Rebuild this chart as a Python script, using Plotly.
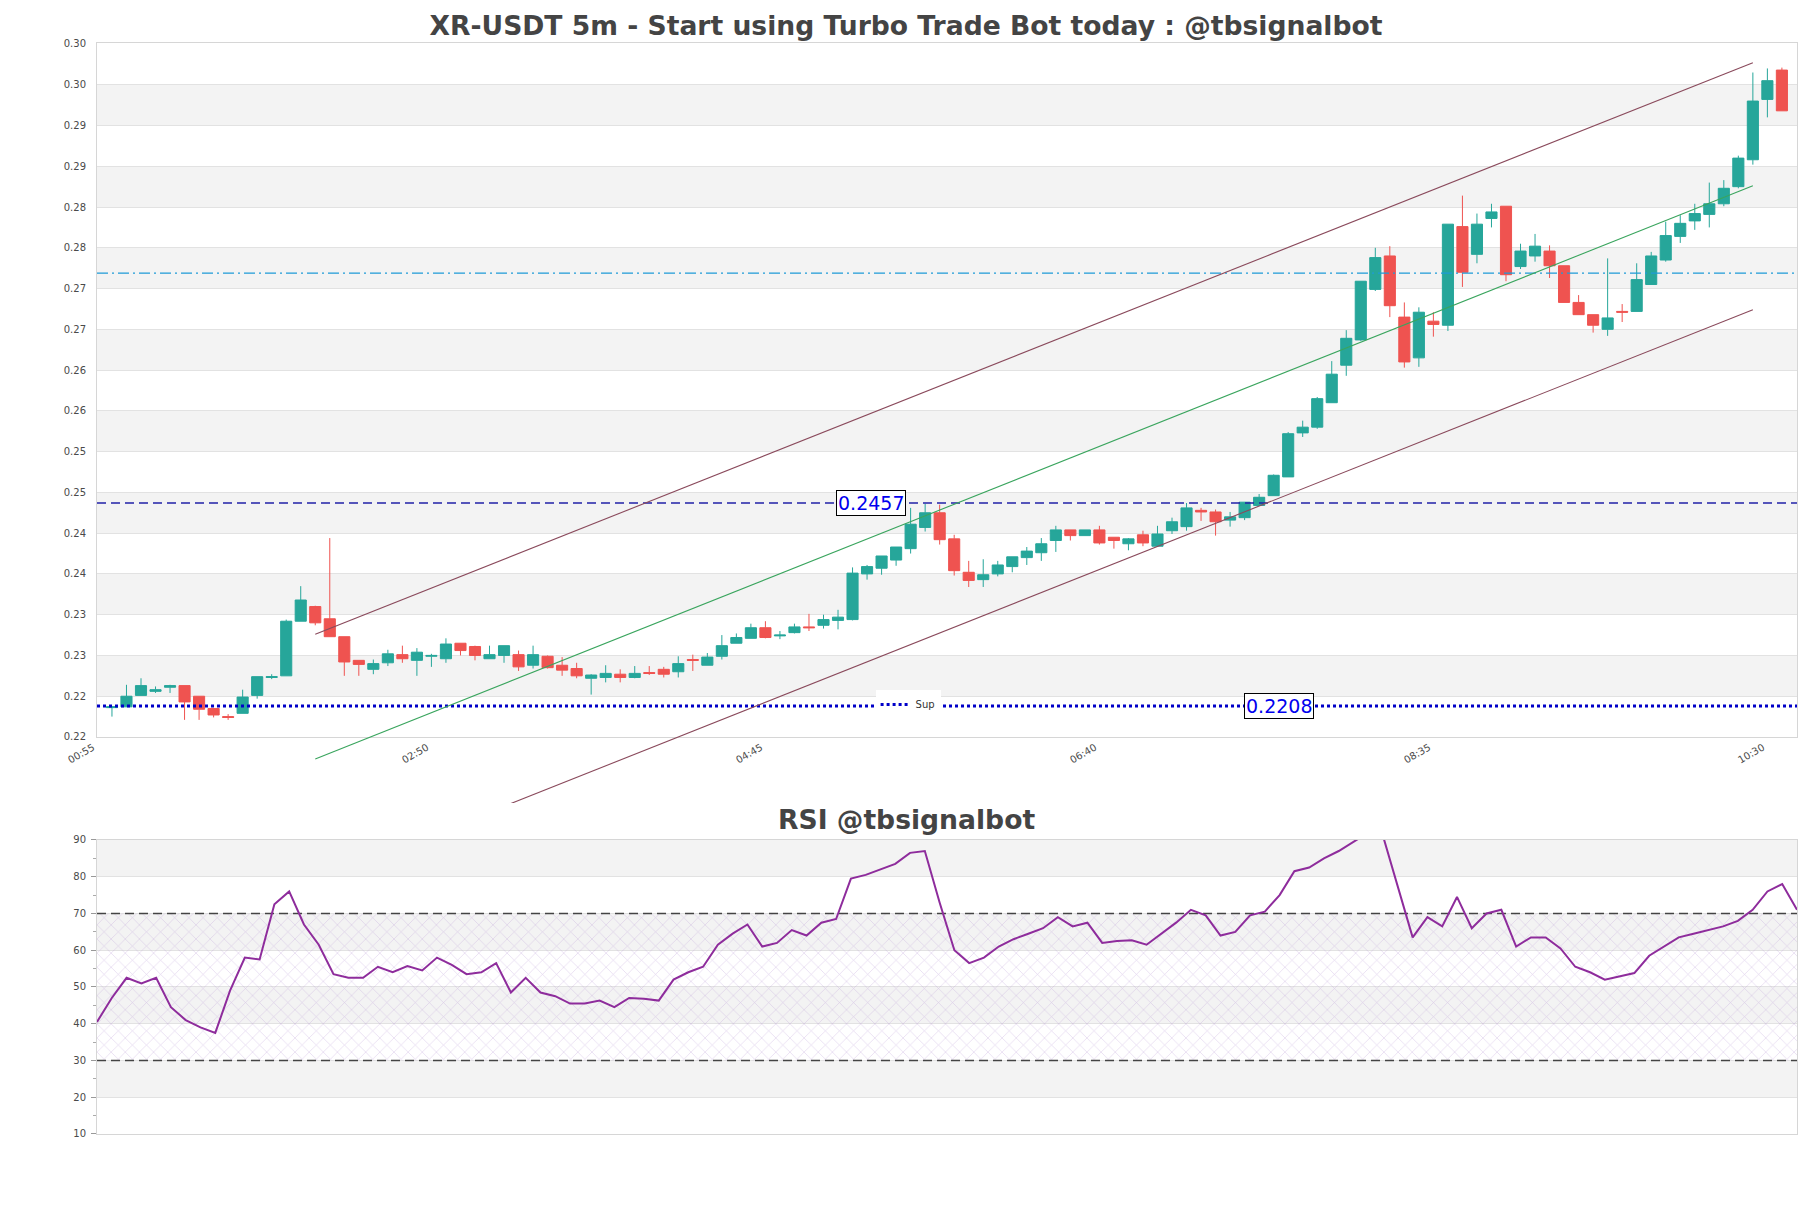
import plotly.graph_objects as go

# ---------------------------------------------------------------------------
# Data (5m candles, index 0 = 00:55)
# ---------------------------------------------------------------------------
OPEN = [
    0.2206, 0.2207, 0.2221, 0.2226, 0.2231, 0.2233, 0.2220, 0.2205, 0.2195, 0.2199,
    0.2221, 0.2243, 0.2245, 0.2312, 0.2330, 0.2315, 0.2293, 0.2264, 0.2253, 0.2261,
    0.2271, 0.2264, 0.2269, 0.2266, 0.2285, 0.2281, 0.2266, 0.2270, 0.2271, 0.2258,
    0.2269, 0.2258, 0.2254, 0.2242, 0.2243, 0.2247, 0.2243, 0.2249, 0.2253, 0.2250,
    0.2265, 0.2258, 0.2269, 0.2285, 0.2291, 0.2304, 0.2294, 0.2298, 0.2305, 0.2307,
    0.2313, 0.2314, 0.2370, 0.2377, 0.2387, 0.2401, 0.2427, 0.2445, 0.2413, 0.2372,
    0.2363, 0.2370, 0.2379, 0.2390, 0.2396, 0.2411, 0.2424, 0.2417, 0.2424, 0.2415,
    0.2407, 0.2418, 0.2404, 0.2423, 0.2428, 0.2448, 0.2446, 0.2436, 0.2439, 0.2454,
    0.2466, 0.2489, 0.2543, 0.2550, 0.2580, 0.2626, 0.2657, 0.2719, 0.2760, 0.2685,
    0.2635, 0.2680, 0.2675, 0.2796, 0.2762, 0.2806, 0.2821, 0.2747, 0.2760, 0.2766,
    0.2748, 0.2703, 0.2688, 0.2670, 0.2692, 0.2692, 0.2725, 0.2755, 0.2784, 0.2803,
    0.2811, 0.2824, 0.2845, 0.2878, 0.2952, 0.2988,
]
HIGH = [
    0.2207, 0.2234, 0.2242, 0.2232, 0.2234, 0.2233, 0.2220, 0.2205, 0.2198, 0.2228,
    0.2244, 0.2247, 0.2314, 0.2355, 0.2331, 0.2414, 0.2293, 0.2264, 0.2265, 0.2277,
    0.2282, 0.2279, 0.2272, 0.2291, 0.2285, 0.2282, 0.2282, 0.2282, 0.2276, 0.2282,
    0.2270, 0.2268, 0.2261, 0.2247, 0.2258, 0.2253, 0.2257, 0.2257, 0.2256, 0.2269,
    0.2271, 0.2273, 0.2295, 0.2297, 0.2309, 0.2312, 0.2300, 0.2309, 0.2321, 0.2320,
    0.2326, 0.2378, 0.2381, 0.2392, 0.2403, 0.2451, 0.2456, 0.2455, 0.2418, 0.2386,
    0.2388, 0.2386, 0.2391, 0.2403, 0.2414, 0.2429, 0.2424, 0.2424, 0.2429, 0.2415,
    0.2414, 0.2423, 0.2429, 0.2439, 0.2457, 0.2451, 0.2449, 0.2446, 0.2458, 0.2468,
    0.2492, 0.2544, 0.2558, 0.2587, 0.2631, 0.2669, 0.2729, 0.2770, 0.2772, 0.2703,
    0.2697, 0.2691, 0.2799, 0.2834, 0.2812, 0.2824, 0.2821, 0.2775, 0.2787, 0.2773,
    0.2748, 0.2712, 0.2688, 0.2757, 0.2701, 0.2751, 0.2765, 0.2802, 0.2810, 0.2824,
    0.2850, 0.2853, 0.2883, 0.2985, 0.2990, 0.2991,
]
LOW = [
    0.2195, 0.2207, 0.2221, 0.2224, 0.2224, 0.2191, 0.2191, 0.2194, 0.2191, 0.2199,
    0.2217, 0.2241, 0.2245, 0.2312, 0.2307, 0.2293, 0.2245, 0.2245, 0.2247, 0.2257,
    0.2261, 0.2245, 0.2256, 0.2261, 0.2270, 0.2264, 0.2266, 0.2261, 0.2251, 0.2254,
    0.2254, 0.2245, 0.2242, 0.2222, 0.2237, 0.2237, 0.2242, 0.2246, 0.2243, 0.2243,
    0.2251, 0.2258, 0.2265, 0.2285, 0.2291, 0.2291, 0.2290, 0.2297, 0.2300, 0.2303,
    0.2302, 0.2313, 0.2363, 0.2369, 0.2380, 0.2395, 0.2422, 0.2406, 0.2368, 0.2354,
    0.2354, 0.2367, 0.2372, 0.2381, 0.2386, 0.2397, 0.2411, 0.2417, 0.2406, 0.2401,
    0.2399, 0.2404, 0.2403, 0.2419, 0.2423, 0.2435, 0.2417, 0.2428, 0.2436, 0.2454,
    0.2466, 0.2489, 0.2538, 0.2548, 0.2580, 0.2613, 0.2656, 0.2717, 0.2685, 0.2623,
    0.2624, 0.2661, 0.2668, 0.2722, 0.2751, 0.2795, 0.2729, 0.2744, 0.2753, 0.2733,
    0.2703, 0.2688, 0.2666, 0.2662, 0.2679, 0.2692, 0.2725, 0.2753, 0.2776, 0.2792,
    0.2795, 0.2821, 0.2843, 0.2872, 0.2930, 0.2938,
]
CLOSE = [
    0.2207, 0.2220, 0.2233, 0.2228, 0.2233, 0.2213, 0.2204, 0.2197, 0.2194, 0.2219,
    0.2244, 0.2244, 0.2312, 0.2338, 0.2310, 0.2293, 0.2262, 0.2259, 0.2260, 0.2272,
    0.2266, 0.2274, 0.2270, 0.2284, 0.2276, 0.2270, 0.2271, 0.2282, 0.2256, 0.2271,
    0.2255, 0.2252, 0.2245, 0.2246, 0.2248, 0.2243, 0.2248, 0.2248, 0.2247, 0.2260,
    0.2264, 0.2268, 0.2282, 0.2292, 0.2304, 0.2292, 0.2295, 0.2305, 0.2304, 0.2314,
    0.2317, 0.2371, 0.2379, 0.2392, 0.2403, 0.2431, 0.2445, 0.2412, 0.2374, 0.2362,
    0.2369, 0.2381, 0.2391, 0.2398, 0.2407, 0.2424, 0.2417, 0.2424, 0.2408, 0.2411,
    0.2413, 0.2408, 0.2419, 0.2434, 0.2451, 0.2446, 0.2434, 0.2440, 0.2458, 0.2464,
    0.2491, 0.2542, 0.2550, 0.2585, 0.2615, 0.2659, 0.2729, 0.2758, 0.2699, 0.2630,
    0.2691, 0.2676, 0.2799, 0.2740, 0.2799, 0.2814, 0.2737, 0.2766, 0.2772, 0.2748,
    0.2703, 0.2688, 0.2675, 0.2684, 0.2691, 0.2731, 0.2760, 0.2785, 0.2800, 0.2812,
    0.2824, 0.2843, 0.2880, 0.2950, 0.2975, 0.2938,
]
RSI = [
    40.5, 47, 52.5, 51, 52.5, 44.5, 41, 39, 37.5, 49,
    58, 57.5, 72.5, 76, 67, 61.5, 53.5, 52.5, 52.5, 55.5,
    54, 55.7, 54.5, 58, 56, 53.5, 54, 56.5, 48.5, 52.5,
    48.5, 47.5, 45.5, 45.5, 46.3, 44.5, 47, 46.8, 46.3, 52,
    54, 55.5, 61.5, 64.5, 67, 61, 62, 65.5, 64, 67.5,
    68.5, 79.5, 80.5, 82, 83.5, 86.5, 87, 73, 60, 56.5,
    58, 61, 63, 64.5, 66, 69, 66.5, 67.5, 62, 62.5,
    62.7, 61.5, 64.5, 67.5, 71, 69.5, 64, 65, 69.5, 70.5,
    75, 81.5, 82.5, 85, 87, 89.5, 92, 91, 77, 63.5,
    69, 66.5, 74.5, 66, 70, 71, 61, 63.5, 63.5, 60.5,
    55.5, 54, 52, 53, 53.8, 58.5, 61, 63.5, 64.5, 65.5,
    66.5, 68, 71, 76, 78, 71,
]
IDX = list(range(len(CLOSE)))

X_TICK_POS = [0, 23, 46, 69, 92, 115]
X_TICK_TEXT = ["00:55", "02:50", "04:45", "06:40", "08:35", "10:30"]

SUPPORT = 0.2208
RESISTANCE = 0.2457
CYAN_LEVEL = 0.2739

# price channel: [start idx, end idx], [start value, end value]
CHANNEL_X = [14, 113]
CHANNEL_UPPER = [0.2296, 0.2997]
CHANNEL_MID = [0.2143, 0.2846]
CHANNEL_LOWER = [0.1993, 0.2694]

RSI_HIGH = 70
RSI_LOW = 30

# ---------------------------------------------------------------------------
# Style
# ---------------------------------------------------------------------------
GREEN = "#26a69a"
RED = "#ef5350"
BAND = "#f3f3f3"
GRID = "#e2e2e2"
FRAME = "#d6d6d6"
TICK_COLOR = "#4a4a4a"
TITLE_COLOR = "#444444"
FONT = "DejaVu Sans"

Y_MIN, Y_MAX = 0.217, 0.30212
Y_TICKS = [round(0.217 + 0.005 * k, 4) for k in range(18)]
X_MIN, X_MAX = -1.03, 116.04

MAIN_DOMAIN = [0.3639, 1.0]
EXT_DOMAIN = [0.3034, 1.0]          # lets channel lines run below the frame
RSI_DOMAIN = [0.0, 0.2695]
Y3_MIN = Y_MAX - (Y_MAX - Y_MIN) * (EXT_DOMAIN[1] - EXT_DOMAIN[0]) / (MAIN_DOMAIN[1] - MAIN_DOMAIN[0])

fig = go.Figure()

fig.add_trace(go.Candlestick(
    x=IDX, open=OPEN, high=HIGH, low=LOW, close=CLOSE,
    increasing=dict(line=dict(color=GREEN, width=1), fillcolor=GREEN),
    decreasing=dict(line=dict(color=RED, width=1), fillcolor=RED),
    whiskerwidth=0, showlegend=False, xaxis="x", yaxis="y",
))

# channel
for vals, color in [(CHANNEL_UPPER, "#8a4a5c"), (CHANNEL_MID, "#3aa55e"), (CHANNEL_LOWER, "#8a4a5c")]:
    fig.add_trace(go.Scatter(
        x=CHANNEL_X, y=vals, mode="lines", line=dict(color=color, width=1.1),
        showlegend=False, xaxis="x", yaxis="y3", hoverinfo="skip",
    ))

# levels
fig.add_trace(go.Scatter(
    x=[X_MIN, X_MAX], y=[CYAN_LEVEL, CYAN_LEVEL], mode="lines",
    line=dict(color="#1e9bd7", width=1.3, dash="11px,4px,2px,4px"),
    showlegend=False, xaxis="x", yaxis="y",
))
fig.add_trace(go.Scatter(
    x=[X_MIN, X_MAX], y=[RESISTANCE, RESISTANCE], mode="lines",
    line=dict(color="#2222a8", width=1.4, dash="9px,5px"),
    showlegend=False, xaxis="x", yaxis="y",
))
fig.add_trace(go.Scatter(
    x=[X_MIN, X_MAX], y=[SUPPORT, SUPPORT], mode="lines", name="Sup",
    line=dict(color="#0000c8", width=3, dash="dot"),
    showlegend=True, xaxis="x", yaxis="y",
))

# RSI
fig.add_trace(go.Scatter(
    x=[IDX[0], IDX[-1]], y=[RSI_LOW, RSI_LOW], mode="lines",
    line=dict(width=0), showlegend=False, xaxis="x2", yaxis="y2", hoverinfo="skip",
))
fig.add_trace(go.Scatter(
    x=[IDX[0], IDX[-1]], y=[RSI_HIGH, RSI_HIGH], mode="lines", fill="tonexty",
    fillcolor="rgba(0,0,0,0)",
    fillpattern=dict(shape="x", fgcolor="rgba(180,145,210,0.85)", size=10, solidity=0.12),
    line=dict(width=0), showlegend=False, xaxis="x2", yaxis="y2", hoverinfo="skip",
))
for lvl in (RSI_HIGH, RSI_LOW):
    fig.add_trace(go.Scatter(
        x=[IDX[0], IDX[-1]], y=[lvl, lvl], mode="lines",
        line=dict(color="#444444", width=1.3, dash="9px,5px"),
        showlegend=False, xaxis="x2", yaxis="y2",
    ))
fig.add_trace(go.Scatter(
    x=IDX, y=RSI, mode="lines", line=dict(color="#8e2c9c", width=2),
    showlegend=False, xaxis="x2", yaxis="y2",
))

# alternating bands
shapes = []
for k in range(1, 17, 2):
    shapes.append(dict(type="rect", xref="x domain", yref="y", x0=0, x1=1,
                       y0=Y_TICKS[k], y1=Y_TICKS[k + 1], fillcolor=BAND,
                       line=dict(width=0), layer="below"))
for lo in (20, 40, 60, 80):
    shapes.append(dict(type="rect", xref="x2 domain", yref="y2", x0=0, x1=1,
                       y0=lo, y1=lo + 10, fillcolor=BAND,
                       line=dict(width=0), layer="below"))

tick_font = dict(family=FONT, size=10, color=TICK_COLOR)
axis_frame = dict(showline=True, linecolor=FRAME, linewidth=1, mirror=True)

fig.update_layout(
    width=1811, height=1208,
    margin=dict(l=89, r=22, t=35, b=82),
    paper_bgcolor="white", plot_bgcolor="rgba(0,0,0,0)",
    font=dict(family=FONT, color=TICK_COLOR),
    boxgap=0.15, boxgroupgap=0.1,
    title=dict(text="XR-USDT 5m - Start using Turbo Trade Bot today : @tbsignalbot",
               x=(906 - 8) / 1811, xref="container", xanchor="center",
               y=1 - 18 / 1208, yref="container", yanchor="middle",
               font=dict(family=FONT, size=26.6, color=TITLE_COLOR, weight="bold")),
    shapes=shapes,
    xaxis=dict(domain=[0, 1], anchor="y", range=[X_MIN, X_MAX], showgrid=False,
               zeroline=False, tickmode="array", tickvals=X_TICK_POS, ticktext=X_TICK_TEXT,
               tickangle=-30, ticklabelshift=-19, tickfont=tick_font,
               rangeslider=dict(visible=False), ticks="", **axis_frame),
    yaxis=dict(domain=MAIN_DOMAIN, anchor="x", range=[Y_MIN, Y_MAX], tickmode="array",
               tickvals=Y_TICKS, tickformat=".2f", gridcolor=GRID, gridwidth=1,
               zeroline=False, tickfont=tick_font, ticks="", ticklabelstandoff=8,
               **axis_frame),
    yaxis3=dict(domain=EXT_DOMAIN, anchor="x", range=[Y3_MIN, Y_MAX], visible=False),
    xaxis2=dict(domain=[0, 1], anchor="y2", range=[IDX[0], IDX[-1]], showgrid=False,
                zeroline=False, showticklabels=False, ticks="", **axis_frame),
    yaxis2=dict(domain=RSI_DOMAIN, anchor="x2", range=[10, 90], tickmode="linear",
                tick0=10, dtick=10, gridcolor=GRID, zeroline=False, tickfont=tick_font,
                ticks="outside", ticklen=5, tickcolor="#999999", ticklabelstandoff=3,
                minor=dict(ticks="outside", ticklen=3, dtick=5, tickcolor="#aaaaaa", showgrid=False),
                **axis_frame),
    legend=dict(x=0.458, y=0.407, xanchor="left", yanchor="top", bgcolor="white",
                font=dict(family=FONT, size=10, color="#333333"), itemwidth=30),
    annotations=[
        dict(x=52.3, y=RESISTANCE, xref="x", yref="y", text="0.2457", showarrow=False,
             font=dict(family=FONT, size=19, color="#0000ee"), bgcolor="white",
             bordercolor="black", borderwidth=1, borderpad=1),
        dict(x=80.4, y=SUPPORT, xref="x", yref="y", text="0.2208", showarrow=False,
             font=dict(family=FONT, size=19, color="#0000ee"), bgcolor="white",
             bordercolor="black", borderwidth=1, borderpad=1),
        dict(x=0.4759, y=(1134 - 819) / 1091, xref="paper", yref="paper",
             text="RSI @tbsignalbot", showarrow=False, xanchor="center", yanchor="middle",
             font=dict(family=FONT, size=26.6, color=TITLE_COLOR, weight="bold")),
    ],
)

fig.write_html("out.html")
